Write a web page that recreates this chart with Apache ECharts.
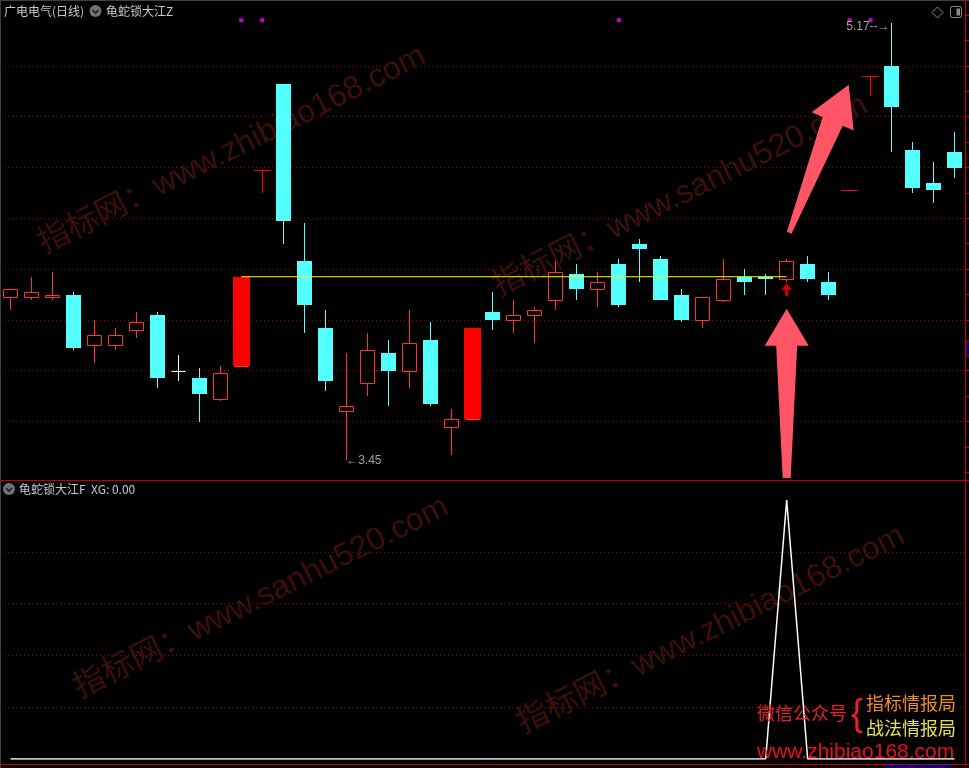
<!DOCTYPE html>
<html><head><meta charset="utf-8">
<script src="https://cdn.jsdelivr.net/npm/echarts@6/dist/echarts.min.js"></script>
<style>html,body{margin:0;padding:0;background:#000;overflow:hidden}#c{width:969px;height:768px}</style>
</head><body><div id="c"></div>
<script>
// ---- data ----
const openP  = [4.09,4.09,4.09,4.10,3.90,3.90,3.96,4.02,3.80,3.77,3.69,3.82,4.59,4.93,4.23,3.97,3.64,3.75,3.87,3.80,3.92,3.58,3.61,4.03,4.00,4.02,4.08,4.18,4.12,4.22,4.30,4.24,4.10,4.00,4.08,4.17,4.17,4.16,4.22,4.15,4.51,4.96,5.00,4.67,4.54,4.66];
const closeP = [4.12,4.11,4.10,3.89,3.94,3.94,3.99,3.77,3.80,3.71,3.79,4.17,4.59,4.39,4.06,3.76,3.66,3.88,3.80,3.91,3.67,3.61,3.97,4.00,4.02,4.04,4.19,4.12,4.15,4.06,4.28,4.08,4.00,4.09,4.16,4.15,4.16,4.23,4.16,4.10,4.51,4.96,4.84,4.52,4.51,4.60];
const lowP   = [4.04,4.08,4.08,3.88,3.83,3.88,3.93,3.73,3.76,3.60,3.68,3.82,4.50,4.30,3.95,3.72,3.45,3.70,3.66,3.73,3.66,3.47,3.61,3.96,3.95,3.91,4.04,4.08,4.05,4.05,4.15,4.08,3.99,3.97,4.07,4.10,4.10,4.15,4.15,4.08,4.51,4.88,4.66,4.50,4.46,4.56];
const highP  = [4.12,4.17,4.19,4.11,4.00,3.97,4.03,4.03,3.86,3.81,3.82,4.17,4.59,4.93,4.38,4.04,3.87,3.95,3.92,4.04,3.99,3.65,3.97,4.11,4.08,4.05,4.23,4.22,4.19,4.24,4.32,4.25,4.12,4.09,4.24,4.20,4.18,4.24,4.25,4.19,4.51,4.96,5.17,4.70,4.62,4.74];
const limitUpDays = [11,12,22,40,41];
const markDays = [11,12,29,40,41];
const xgValues = [0,0,0,0,0,0,0,0,0,0, 0,0,0,0,0,0,0,0,0,0, 0,0,0,0,0,0,0,0,0,0, 0,0,0,0,0,0,0,1,0,0, 0,0,0,0,0,0];
const lockLevel = 4.17, lockFrom = 11, lockTo = 37;
const signalDay = 37;
const highDay = 42, highVal = 5.17;
const lowDay = 16, lowVal = 3.45;
const days = openP.map((_, i) => 'D' + (i + 1));

// ---- styles ----
const UP = '#ff3232', DOWN = '#54ffff', LIMIT = '#ff0000';
const GRIDRED = '#a00000', BORDER = '#c00000';
const markLevel = 5.18;

function seg(x1, y1, x2, y2, color) {
  return {type: 'line', shape: {x1, y1, x2, y2}, style: {stroke: color, lineWidth: 1}};
}
function candleItem(params, api) {
  const i = api.value(0), o = api.value(1), c = api.value(2), l = api.value(3), h = api.value(4);
  const x = Math.floor(api.coord([i, o])[0]) + 0.5;
  const Y = v => Math.round(api.coord([i, v])[1]);
  const yo = Y(o), yc = Y(c), yl = Y(l), yh = Y(h);
  const kids = [];
  if (c > o) {
    if (yh < yc) kids.push(seg(x, yh, x, yc, UP));
    if (yl > yo) kids.push(seg(x, yo + 1, x, yl, UP));
    kids.push({type: 'rect', shape: {x: x - 7, y: yc + 0.5, width: 14, height: yo - yc}, style: {fill: null, stroke: UP, lineWidth: 1}});
  } else if (c < o) {
    kids.push(seg(x, yh, x, yl, DOWN));
    kids.push({type: 'rect', shape: {x: x - 7.5, y: yo, width: 15, height: Math.max(1, yc - yo)}, style: {fill: DOWN}});
  } else {
    kids.push(seg(x, yh, x, yl, '#ffffff'));
    kids.push(seg(x - 7, yo + 0.5, x + 7, yo + 0.5, '#ffffff'));
  }
  return {type: 'group', children: kids};
}
function stickItem(params, api) {
  const i = api.value(0), o = api.value(1), c = api.value(2), l = api.value(3), h = api.value(4);
  const x = Math.floor(api.coord([i, o])[0]) + 0.5;
  const Y = v => Math.round(api.coord([i, v])[1]);
  const yo = Y(o), yc = Y(c), yl = Y(l), yh = Y(h);
  const top = Math.min(yo, yc), bot = Math.max(yo, yc);
  return {type: 'group', children: [
    seg(x, yh, x, yl, LIMIT),
    {type: 'rect', shape: {x: x - 8.5, y: top, width: 17, height: Math.max(1, bot - top)}, style: {fill: LIMIT}}
  ]};
}

const chart = echarts.init(document.getElementById('c'), null, {renderer: 'canvas'});
const candleData = openP.map((o, i) => [i, o, closeP[i], lowP[i], highP[i]]);
const stickData = limitUpDays.map(d => [d, openP[d], closeP[d], lowP[d], highP[d]]);
const lblStyle = {color: '#c8c8c8', fontSize: 12, fontFamily: 'Liberation Sans, Arial, sans-serif'};

chart.setOption({
  backgroundColor: '#000',
  animation: false,
  grid: [
    {left: -1, width: 966, top: 15.1, height: 457.2},
    {left: -1, width: 966, top: 500, height: 259}
  ],
  xAxis: [
    {type: 'category', data: days, gridIndex: 0, boundaryGap: true, show: false},
    {type: 'category', data: days, gridIndex: 1, boundaryGap: true, show: false}
  ],
  yAxis: [
    {type: 'value', gridIndex: 0, position: 'right', min: 3.4, max: 5.2, interval: 0.2,
     axisLine: {show: false}, axisLabel: {show: false},
     axisTick: {show: true, inside: false, length: 4, lineStyle: {color: BORDER}},
     minorTick: {show: true, splitNumber: 2, length: 4, lineStyle: {color: BORDER}},
     splitLine: {show: true, showMinLine: false, showMaxLine: false, lineStyle: {color: GRIDRED, type: [1, 3], width: 1}}},
    {type: 'value', gridIndex: 1, position: 'right', min: 0, max: 1, interval: 0.2,
     axisLine: {show: false}, axisLabel: {show: false}, axisTick: {show: false},
     splitLine: {show: true, showMinLine: false, showMaxLine: false, lineStyle: {color: GRIDRED, type: [1, 3], width: 1}}}
  ],
  series: [
    {type: 'custom', name: 'K', xAxisIndex: 0, yAxisIndex: 0, renderItem: candleItem, data: candleData,
     encode: {x: 0, y: [1, 2, 3, 4]}, z: 3, clip: false},
    {type: 'custom', name: 'limit', xAxisIndex: 0, yAxisIndex: 0, renderItem: stickItem, data: stickData,
     encode: {x: 0, y: [1, 2, 3, 4]}, z: 4, clip: false},
    {type: 'line', name: 'lock', xAxisIndex: 0, yAxisIndex: 0, data: [[lockFrom, lockLevel], [lockTo, lockLevel]],
     symbol: 'none', lineStyle: {color: '#ffff00', width: 1}, z: 5},
    {type: 'scatter', name: 'marks', xAxisIndex: 0, yAxisIndex: 0, data: markDays.map(d => [d, markLevel]),
     symbol: 'rect', symbolSize: 4, itemStyle: {color: '#ff00ff'}, z: 5},
    {type: 'scatter', name: 'sig', xAxisIndex: 0, yAxisIndex: 0, data: [[signalDay, lowP[signalDay]]],
     symbol: 'path://M5,0 L10,6 L6.5,6 L6.5,12 L3.5,12 L3.5,6 L0,6 Z', symbolSize: [11, 13], symbolOffset: [0, 8],
     itemStyle: {color: '#ff0000'}, z: 5},
    {type: 'scatter', name: 'hi', xAxisIndex: 0, yAxisIndex: 0, data: [[highDay, highVal]], symbolSize: 0,
     label: {show: true, position: 'left', distance: 1, offset: [-1, 4], formatter: highVal.toFixed(2) + '--→', ...lblStyle}, z: 6},
    {type: 'scatter', name: 'lo', xAxisIndex: 0, yAxisIndex: 0, data: [[lowDay, lowVal]], symbolSize: 0,
     label: {show: true, position: 'right', distance: 0, offset: [0, 1], formatter: '←' + lowVal.toFixed(2), ...lblStyle}, z: 6},
    {type: 'line', name: 'XG', xAxisIndex: 1, yAxisIndex: 1, data: xgValues, symbol: 'none',
     lineStyle: {color: '#ffffff', width: 1.5}, z: 5}
  ]
});

// ---- annotations ----
const sp = chart.convertToPixel({gridIndex: 0}, [signalDay, lowP[signalDay]]);
const cx = sp[0], ly = sp[1];
const vArrow = [[cx, ly + 27], [cx + 22, ly + 64], [cx + 10.5, ly + 64], [cx + 4, 478], [cx - 4, 478], [cx - 10.5, ly + 64], [cx - 22, ly + 64]];
const T = [cx + 62, ly - 197];
const dir = [0.4, -0.914], perp = [0.914, 0.4];
const B = [T[0] - 40 * dir[0], T[1] - 40 * dir[1]];
const tail = [cx + 2.5, ly - 49];
const P = (p, k) => [p[0] + k * perp[0], p[1] + k * perp[1]];
const dArrow = [T, P(B, 23), P(B, 11), P(tail, 2.5), P(tail, -2.5), P(B, -11), P(B, -23)];

const WM = '#3c0f0c';
const wmFont = 'Liberation Sans, "Noto Sans CJK SC", sans-serif';
function wm(text, x, y) {
  return {type: 'text', x, y, rotation: 0.464, z: 0, silent: true,
    style: {text, fill: WM, fontSize: 32, fontFamily: wmFont, textAlign: 'center', textVerticalAlign: 'middle'}};
}
function txt(text, x, y, fill, size, family, z) {
  return {type: 'text', x, y, z: z || 20, silent: true,
    style: {text, fill, fontSize: size, fontFamily: family || '"Noto Sans CJK SC", sans-serif', textVerticalAlign: 'middle'}};
}
function iconCircle(x, y) {
  return [{type: 'circle', z: 20, shape: {cx: x, cy: y, r: 6}, style: {fill: '#727272'}},
          {type: 'polyline', z: 21, shape: {points: [[x - 3, y - 1], [x, y + 2], [x + 3, y - 1]]}, style: {stroke: '#1c1c1c', lineWidth: 1.6, fill: null}}];
}
const gfx = [
  wm('指标网：www.zhibiao168.com', 232, 150),
  wm('指标网：www.sanhu520.com', 680, 196),
  wm('指标网：www.sanhu520.com', 261, 598),
  wm('指标网：www.zhibiao168.com', 711, 630),
  // borders
  {type: 'line', z: 20, shape: {x1: 0, y1: 0.5, x2: 969, y2: 0.5}, style: {stroke: '#404040', lineWidth: 1}},
  {type: 'line', z: 20, shape: {x1: 0.5, y1: 0, x2: 0.5, y2: 768}, style: {stroke: '#404040', lineWidth: 1}},
  {type: 'line', z: 20, shape: {x1: 965.5, y1: 0, x2: 965.5, y2: 765}, style: {stroke: BORDER, lineWidth: 1}},
  {type: 'line', z: 20, shape: {x1: 0, y1: 480.5, x2: 969, y2: 480.5}, style: {stroke: BORDER, lineWidth: 1}},
  {type: 'line', z: 20, shape: {x1: 0, y1: 764.5, x2: 969, y2: 764.5}, style: {stroke: BORDER, lineWidth: 1}},
  {type: 'rect', z: 20, shape: {x: 966, y: 341, width: 4, height: 15}, style: {fill: '#000080', stroke: BORDER, lineWidth: 1}},
  {type: 'rect', z: 20, shape: {x: 885, y: 765, width: 67, height: 4}, style: {fill: '#000080'}},
  // titles
  txt('广电电气(日线)', 4, 11, '#c8c8c8', 12),
  ...iconCircle(95.5, 11),
  txt('龟蛇锁大江Z', 106, 11, '#c8c8c8', 12),
  ...iconCircle(9, 489),
  txt('龟蛇锁大江F  XG: 0.00', 19, 489, '#c8c8c8', 12),
  {type: 'polygon', z: 20, shape: {points: [[937.5, 7], [943, 12.5], [937.5, 18], [932, 12.5]]}, style: {fill: null, stroke: '#8c8c8c', lineWidth: 1}},
  {type: 'rect', z: 20, shape: {x: 950.5, y: 6.5, width: 11, height: 11, r: 2}, style: {fill: null, stroke: '#8c8c8c', lineWidth: 1}},
  {type: 'rect', z: 20, shape: {x: 956.5, y: 8.5, width: 3.5, height: 7}, style: {fill: '#8c8c8c'}},
  // arrows
  {type: 'polygon', z: 15, shape: {points: vArrow}, style: {fill: '#ff5566'}},
  {type: 'polygon', z: 15, shape: {points: dArrow}, style: {fill: '#ff5566'}},
  // bottom-right promo
  txt('微信公众号', 757, 713, '#e8202a', 18),
  {type: 'text', x: 851, y: 715, z: 20, silent: true, style: {text: '{', fill: '#e8202a', fontSize: 36, fontFamily: 'Liberation Sans, sans-serif', textVerticalAlign: 'middle'}},
  txt('指标情报局', 866, 703, '#f08c1e', 18),
  txt('战法情报局', 866, 728, '#e6e050', 18),
  txt('www.zhibiao168.com', 757, 752, '#e8101c', 21, 'Liberation Sans, Arial, sans-serif')
];
chart.setOption({graphic: {elements: gfx}});
</script>
</body></html>
